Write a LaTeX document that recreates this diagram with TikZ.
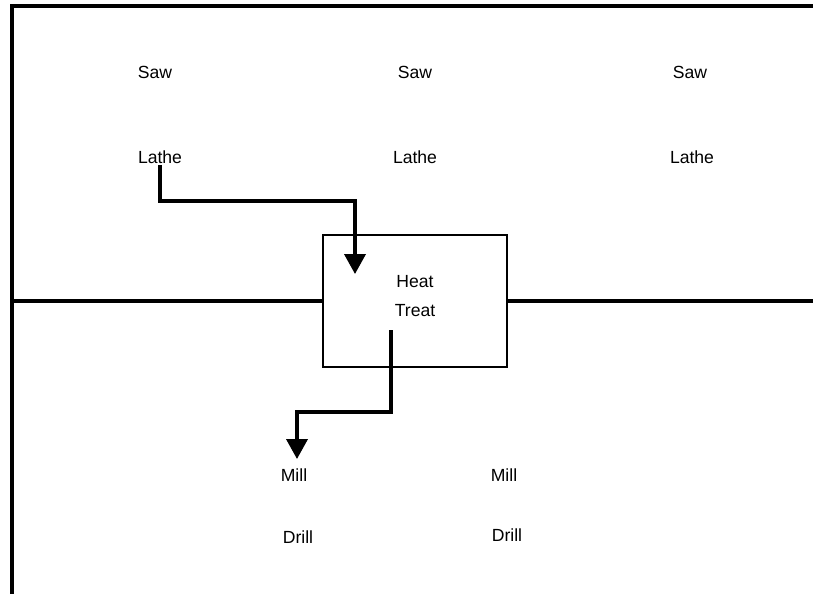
\documentclass[tikz,border=0pt]{standalone}
\usepackage{fontspec}
\setmainfont{Liberation Sans}
\usetikzlibrary{calc,positioning,arrows.meta}

\begin{document}
\begin{tikzpicture}[
  x=0.03cm, y=-0.03cm,
  machine/.style={font=\fontsize{15}{17}\selectfont, inner sep=1pt},
  cell/.style={rectangle, draw=black, line width=1.8pt, minimum width=5.52cm,
    minimum height=3.96cm},
  celltext/.style={align=center, font=\fontsize{15}{24.5}\selectfont, inner sep=0pt},
  frame/.style={line width=2.8pt},
  flow/.style={-{Triangle[length=17pt,width=18pt]}, line width=2.8pt}
]
  \useasboundingbox (0,0) rectangle (813,594);
  % plant outline
  \coordinate (tl) at (12,6);
  \coordinate (tr) at (813,6);
  \coordinate (bl) at (12,594);
  \coordinate (ml) at (12,301);
  \coordinate (mr) at (813,301);
  \draw[frame] (tr) -- (tl) -- (bl);
  % heat treatment cell
  \node[cell] (heat) at (415,301) {};
  \node[celltext] (heatname) at (415,296) {Heat\\Treat};
  \draw[frame] (ml) -- (heat.west);
  \draw[frame] (heat.east) -- (mr);
  % upper department
  \node[machine] (saw1) at (155,72) {Saw};
  \node[machine] (saw2) at (415,72) {Saw};
  \node[machine] (saw3) at (690,72) {Saw};
  \node[machine] (lathe1) at (160,157) {Lathe};
  \node[machine] (lathe2) at (415,157) {Lathe};
  \node[machine] (lathe3) at (692,157) {Lathe};
  % lower department
  \node[machine] (mill1) at (294,475) {Mill};
  \node[machine] (mill2) at (504,475) {Mill};
  \node[machine] (drill1) at (298,537) {Drill};
  \node[machine] (drill2) at (507,535) {Drill};
  % routing
  \coordinate (inheat) at (355,274);
  \coordinate (outheat) at (391,330);
  \coordinate (tomill) at (297,459);
  \draw[flow] (lathe1.south) |- ($(inheat)+(0,-73)$) -- (inheat);
  \draw[flow] (outheat) |- ($(tomill)+(0,-47)$) -- (tomill);
\end{tikzpicture}
\end{document}
